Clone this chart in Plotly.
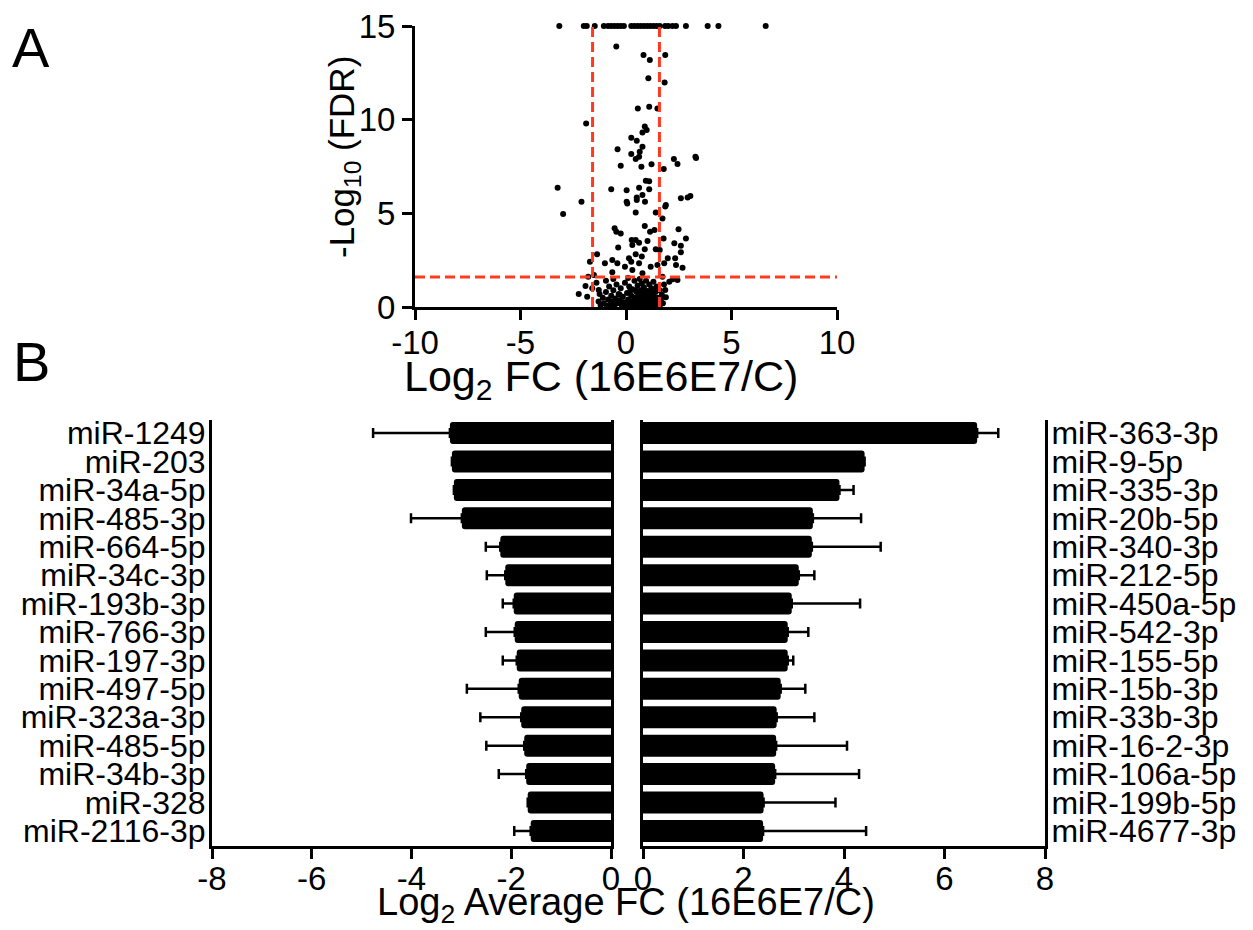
import plotly.graph_objects as go

# ---------------- Panel A: volcano data ----------------
top_fc = [-3.16, -2.0, -1.86, -1.48, -1.05, -0.85, -0.7, -0.55, -0.4, -0.25, -0.1,
          0.25, 0.4, 0.55, 0.7, 0.85, 1.0, 1.15, 1.3, 1.45, 1.6, 1.85, 2.0, 2.2,
          2.37, 2.84, 3.87, 4.38, 6.62]
top_fdr = [15] * len(top_fc)

mid_fc = [-0.46, 0.83, 1.13, 1.86, 1.06, 1.83, 0.56, 1.1, 1.49, -1.89, 0.89, 0.98, 0.78,
          0.25, 0.51, -0.40, 0.78, 0.65, 0.25, 0.46, 0.62, 2.27, 2.44, 3.29, 3.32, -0.25,
          0.73, 1.21, 1.79, 0.94, 1.1, -3.24, -0.70, 0.03, 0.62, 1.1, 0.78, 0.51, 0.51,
          0.03, 0.06, 0.9, -2.11, 1.86, 1.89, 2.6, 2.92, 3.05, -2.98, 0.46, 1.41, 1.73,
          -0.54, -0.46, -0.25, 0.89, 1.14, 1.35, 2.49, 1.78, 0.27, 0.46, 0.30, 0.62, 1.02,
          2.29, 2.6, 2.84, -0.37, 0.89, 1.41, 1.6, 2.6, -1.37, 0.14, 0.46, 0.75, -1.71,
          -0.65, -1.0, -0.41, -0.05, 0.25, 0.62, 1.98, 1.81, 2.33, 2.37, 2.68, 1.49, 1.17,
          -0.65, 0.3, 0.78, -1.79, -1.52, 1.73, 2.21, 2.44, 2.05, -1.92, -1.6, -1.29,
          -2.24, -1.84, 1.86, 1.89]
mid_fdr = [13.9, 13.45, 13.19, 13.45, 12.21, 11.99, 10.59, 10.69, 10.59, 9.8, 9.63, 9.45,
           9.32, 9.04, 8.88, 8.42, 8.56, 8.29, 8.17, 7.9, 8.02, 7.9, 7.63, 8.02, 7.95, 7.54,
           7.49, 7.62, 7.37, 6.74, 6.71, 6.37, 6.28, 6.23, 6.37, 6.28, 5.98, 5.84, 5.71,
           5.62, 5.53, 5.62, 5.62, 5.36, 5.44, 5.8, 5.84, 5.93, 4.96, 5.05, 5.05, 4.72,
           4.2, 4.02, 3.93, 4.32, 4.02, 4.11, 4.15, 3.65, 3.58, 3.58, 3.31, 3.43, 3.52,
           3.40, 3.27, 3.65, 3.17, 3.08, 3.08, 3.04, 2.92, 2.81, 2.6, 2.81, 2.69, 2.42,
           2.51, 2.33, 2.33, 2.15, 2.42, 2.33, 2.6, 2.33, 2.6, 2.24, 2.1, 2.24, 2.15,
           1.85, 1.98, 1.8, 1.62, 1.71, 1.62, 1.48, 1.44, 1.35, 1.12, 1.0, 0.91,
           0.69, 0.55, 0.91, 0.52]

blob_fc = [-1.3, -1.2, -1.1, -1.05, -0.95, -0.9, -0.85, -0.8, -0.75, -0.7, -0.65, -0.6,
           -0.55, -0.5, -0.45, -0.4, -0.35, -0.3, -0.25, -0.2, -0.15, -0.1, -0.05, 0.0,
           0.05, 0.1, 0.15, 0.2, 0.25, 0.3, 0.3, 0.35, 0.4, 0.4, 0.45, 0.5, 0.5, 0.55,
           0.55, 0.6, 0.6, 0.65, 0.65, 0.7, 0.7, 0.75, 0.75, 0.8, 0.8, 0.85, 0.85, 0.9,
           0.9, 0.95, 0.95, 1.0, 1.0, 1.05, 1.05, 1.1, 1.1, 1.15, 1.15, 1.2, 1.2, 1.25,
           1.3, 1.3, 1.35, 1.35, 1.4, 1.45, 1.45, 1.5, 1.55, 1.6, 1.6, 1.65, 1.7, 1.75,
           1.8, -1.25, -1.4, -0.95, -0.6, 0.1, 0.2, -0.3, 0.45, 1.25,
           0.35, 0.65, 0.95, 1.25, 1.5, 0.15, 0.85, 1.15, 0.55, -0.15]
blob_fdr = [0.3, 0.1, 0.5, 0.2, 0.8, 0.05, 0.4, 1.1, 0.15, 0.6, 0.3, 0.9,
            0.05, 0.45, 1.2, 0.2, 0.7, 0.35, 1.0, 0.1, 0.55, 0.25, 1.3, 0.05,
            0.75, 0.4, 1.1, 0.15, 0.6, 0.3, 0.95, 0.05, 1.4, 0.5, 0.2, 0.8, 0.1, 1.15,
            0.4, 0.65, 0.05, 0.3, 1.5, 0.9, 0.15, 0.55, 1.25, 0.25, 0.05, 0.75, 1.05, 0.4,
            0.1, 0.6, 1.4, 0.2, 0.85, 0.5, 0.05, 1.2, 0.3, 0.7, 0.1, 0.45, 1.0, 0.2,
            0.6, 1.35, 0.05, 0.35, 0.8, 0.15, 1.1, 0.5, 0.25, 0.9, 0.05, 0.4, 0.65, 0.2,
            1.2, 0.7, 1.3, 1.4, 1.5, 1.55, 0.85, 0.65, 0.9, 0.9,
            0.15, 0.15, 0.25, 0.1, 0.1, 0.3, 0.35, 0.45, 0.25, 0.05]

fc_threshold = 1.585
fdr_threshold = 1.6

# ---------------- Panel B: bar data ----------------
down_names = ["miR-1249", "miR-203", "miR-34a-5p", "miR-485-3p", "miR-664-5p", "miR-34c-3p",
              "miR-193b-3p", "miR-766-3p", "miR-197-3p", "miR-497-5p", "miR-323a-3p",
              "miR-485-5p", "miR-34b-3p", "miR-328", "miR-2116-3p"]
down_fc = [-3.23, -3.19, -3.15, -2.99, -2.22, -2.12, -1.95, -1.93, -1.89, -1.85, -1.80,
           -1.74, -1.70, -1.67, -1.61]
down_err = [1.54, 0, 0, 1.02, 0.29, 0.37, 0.22, 0.58, 0.28, 1.04, 0.82, 0.76, 0.55, 0, 0.33]

up_names = ["miR-363-3p", "miR-9-5p", "miR-335-3p", "miR-20b-5p", "miR-340-3p", "miR-212-5p",
            "miR-450a-5p", "miR-542-3p", "miR-155-5p", "miR-15b-3p", "miR-33b-3p",
            "miR-16-2-3p", "miR-106a-5p", "miR-199b-5p", "miR-4677-3p"]
up_fc = [6.65, 4.41, 3.91, 3.38, 3.36, 3.10, 2.96, 2.88, 2.88, 2.74, 2.66, 2.65, 2.63,
         2.40, 2.39]
up_err = [0.42, 0, 0.28, 0.96, 1.37, 0.31, 1.36, 0.41, 0.11, 0.49, 0.75, 1.41, 1.67, 1.43,
          2.05]

volcano_ticks_x = [-10, -5, 0, 5, 10]
volcano_ticks_y = [0, 5, 10, 15]
down_ticks = [-8, -6, -4, -2, 0]
up_ticks = [0, 2, 4, 6, 8]


def labels(vals):
    return [str(v) for v in vals]   # plain hyphen-minus like the reference


FONT = "Liberation Sans, Arial, Helvetica, sans-serif"
W, H = 1253, 930
RED = "#FF3B1F"

fig = go.Figure()

fig.add_trace(go.Scatter(
    x=top_fc + mid_fc + blob_fc, y=top_fdr + mid_fdr + blob_fdr,
    mode="markers", marker=dict(color="black", size=6, line=dict(width=0)),
    cliponaxis=False, xaxis="x", yaxis="y", showlegend=False))

fig.add_trace(go.Bar(
    x=down_fc, y=down_names, orientation="h",
    marker=dict(color="black", cornerradius=3, line=dict(width=0)),
    error_x=dict(type="data", symmetric=False, array=[0] * len(down_err),
                 arrayminus=down_err, color="black", thickness=2.5, width=5),
    xaxis="x2", yaxis="y2", showlegend=False))

fig.add_trace(go.Bar(
    x=up_fc, y=up_names, orientation="h",
    marker=dict(color="black", cornerradius=3, line=dict(width=0)),
    error_x=dict(type="data", symmetric=False, array=up_err,
                 arrayminus=[0] * len(up_err), color="black", thickness=2.5, width=5),
    xaxis="x3", yaxis="y3", showlegend=False))

# threshold lines
line_style = dict(color=RED, width=3, dash="10px,5px")
for xv in (-fc_threshold, fc_threshold):
    fig.add_shape(type="line", xref="x", yref="y", x0=xv, x1=xv, y0=0, y1=15,
                  line=line_style, layer="above")
fig.add_shape(type="line", xref="x", yref="y", x0=-10, x1=10, y0=fdr_threshold,
              y1=fdr_threshold, line=line_style, layer="above")

tickfont = dict(family=FONT, size=33, color="black")
axis_common = dict(showline=True, linecolor="black", linewidth=3, ticks="outside",
                   ticklen=10, tickwidth=3, tickcolor="black", showgrid=False,
                   zeroline=False, tickfont=tickfont, tickmode="array", automargin=False)
cat_axis = dict(type="category", range=[14.53, -0.46], showline=True, mirror=True,
                linecolor="black", linewidth=3, ticks="", showgrid=False, zeroline=False,
                tickmode="linear", tick0=0, dtick=1, automargin=False,
                ticklabelstandoff=-3,
                tickfont=dict(family=FONT, size=32, color="black"))

fig.update_layout(
    template="none",
    width=W, height=H, margin=dict(l=0, r=0, t=0, b=0, autoexpand=False),
    paper_bgcolor="white", plot_bgcolor="white", bargap=0.225,
    xaxis=dict(domain=[415 / W, 837 / W], range=[-10, 10], tickvals=volcano_ticks_x,
               ticktext=labels(volcano_ticks_x), ticklabelstandoff=-6, anchor="y",
               **axis_common),
    yaxis=dict(domain=[1 - 307 / H, 1 - 26 / H], range=[0, 15], tickvals=volcano_ticks_y,
               ticktext=labels(volcano_ticks_y), anchor="x", **axis_common),
    xaxis2=dict(domain=[212 / W, 611 / W], range=[-8, 0], tickvals=down_ticks,
                ticktext=labels(down_ticks), ticklabelstandoff=-9, anchor="y2",
                **axis_common),
    yaxis2=dict(domain=[1 - 846 / H, 1 - 420 / H], anchor="x2", side="left", **cat_axis),
    xaxis3=dict(domain=[643 / W, 1045 / W], range=[0, 8], tickvals=up_ticks,
                ticktext=labels(up_ticks), ticklabelstandoff=-9, anchor="y3",
                **axis_common),
    yaxis3=dict(domain=[1 - 846 / H, 1 - 420 / H], anchor="x3", side="right", **cat_axis),
)

annotations = [
    dict(text="A", x=31 / W, y=1 - 47 / H, font=dict(family=FONT, size=56, color="black")),
    dict(text="B", x=31 / W, y=1 - 362 / H, font=dict(family=FONT, size=56, color="black")),
    dict(text="-Log<sub>10</sub> (FDR)", x=344 / W, y=1 - 157 / H, textangle=-90,
         font=dict(family=FONT, size=35, color="black")),
    dict(text="Log<sub>2</sub> FC (16E6E7/C)", x=601 / W, y=1 - 379 / H,
         font=dict(family=FONT, size=43, color="black")),
    dict(text="Log<sub>2</sub> Average FC (16E6E7/C)", x=626 / W, y=1 - 905 / H,
         font=dict(family=FONT, size=38, color="black")),
]
for a in annotations:
    fig.add_annotation(xref="paper", yref="paper", showarrow=False, xanchor="center",
                       yanchor="middle", **a)

fig.write_html("out.html", config={"displayModeBar": False},
               post_script="document.body.style.margin='0px';")
